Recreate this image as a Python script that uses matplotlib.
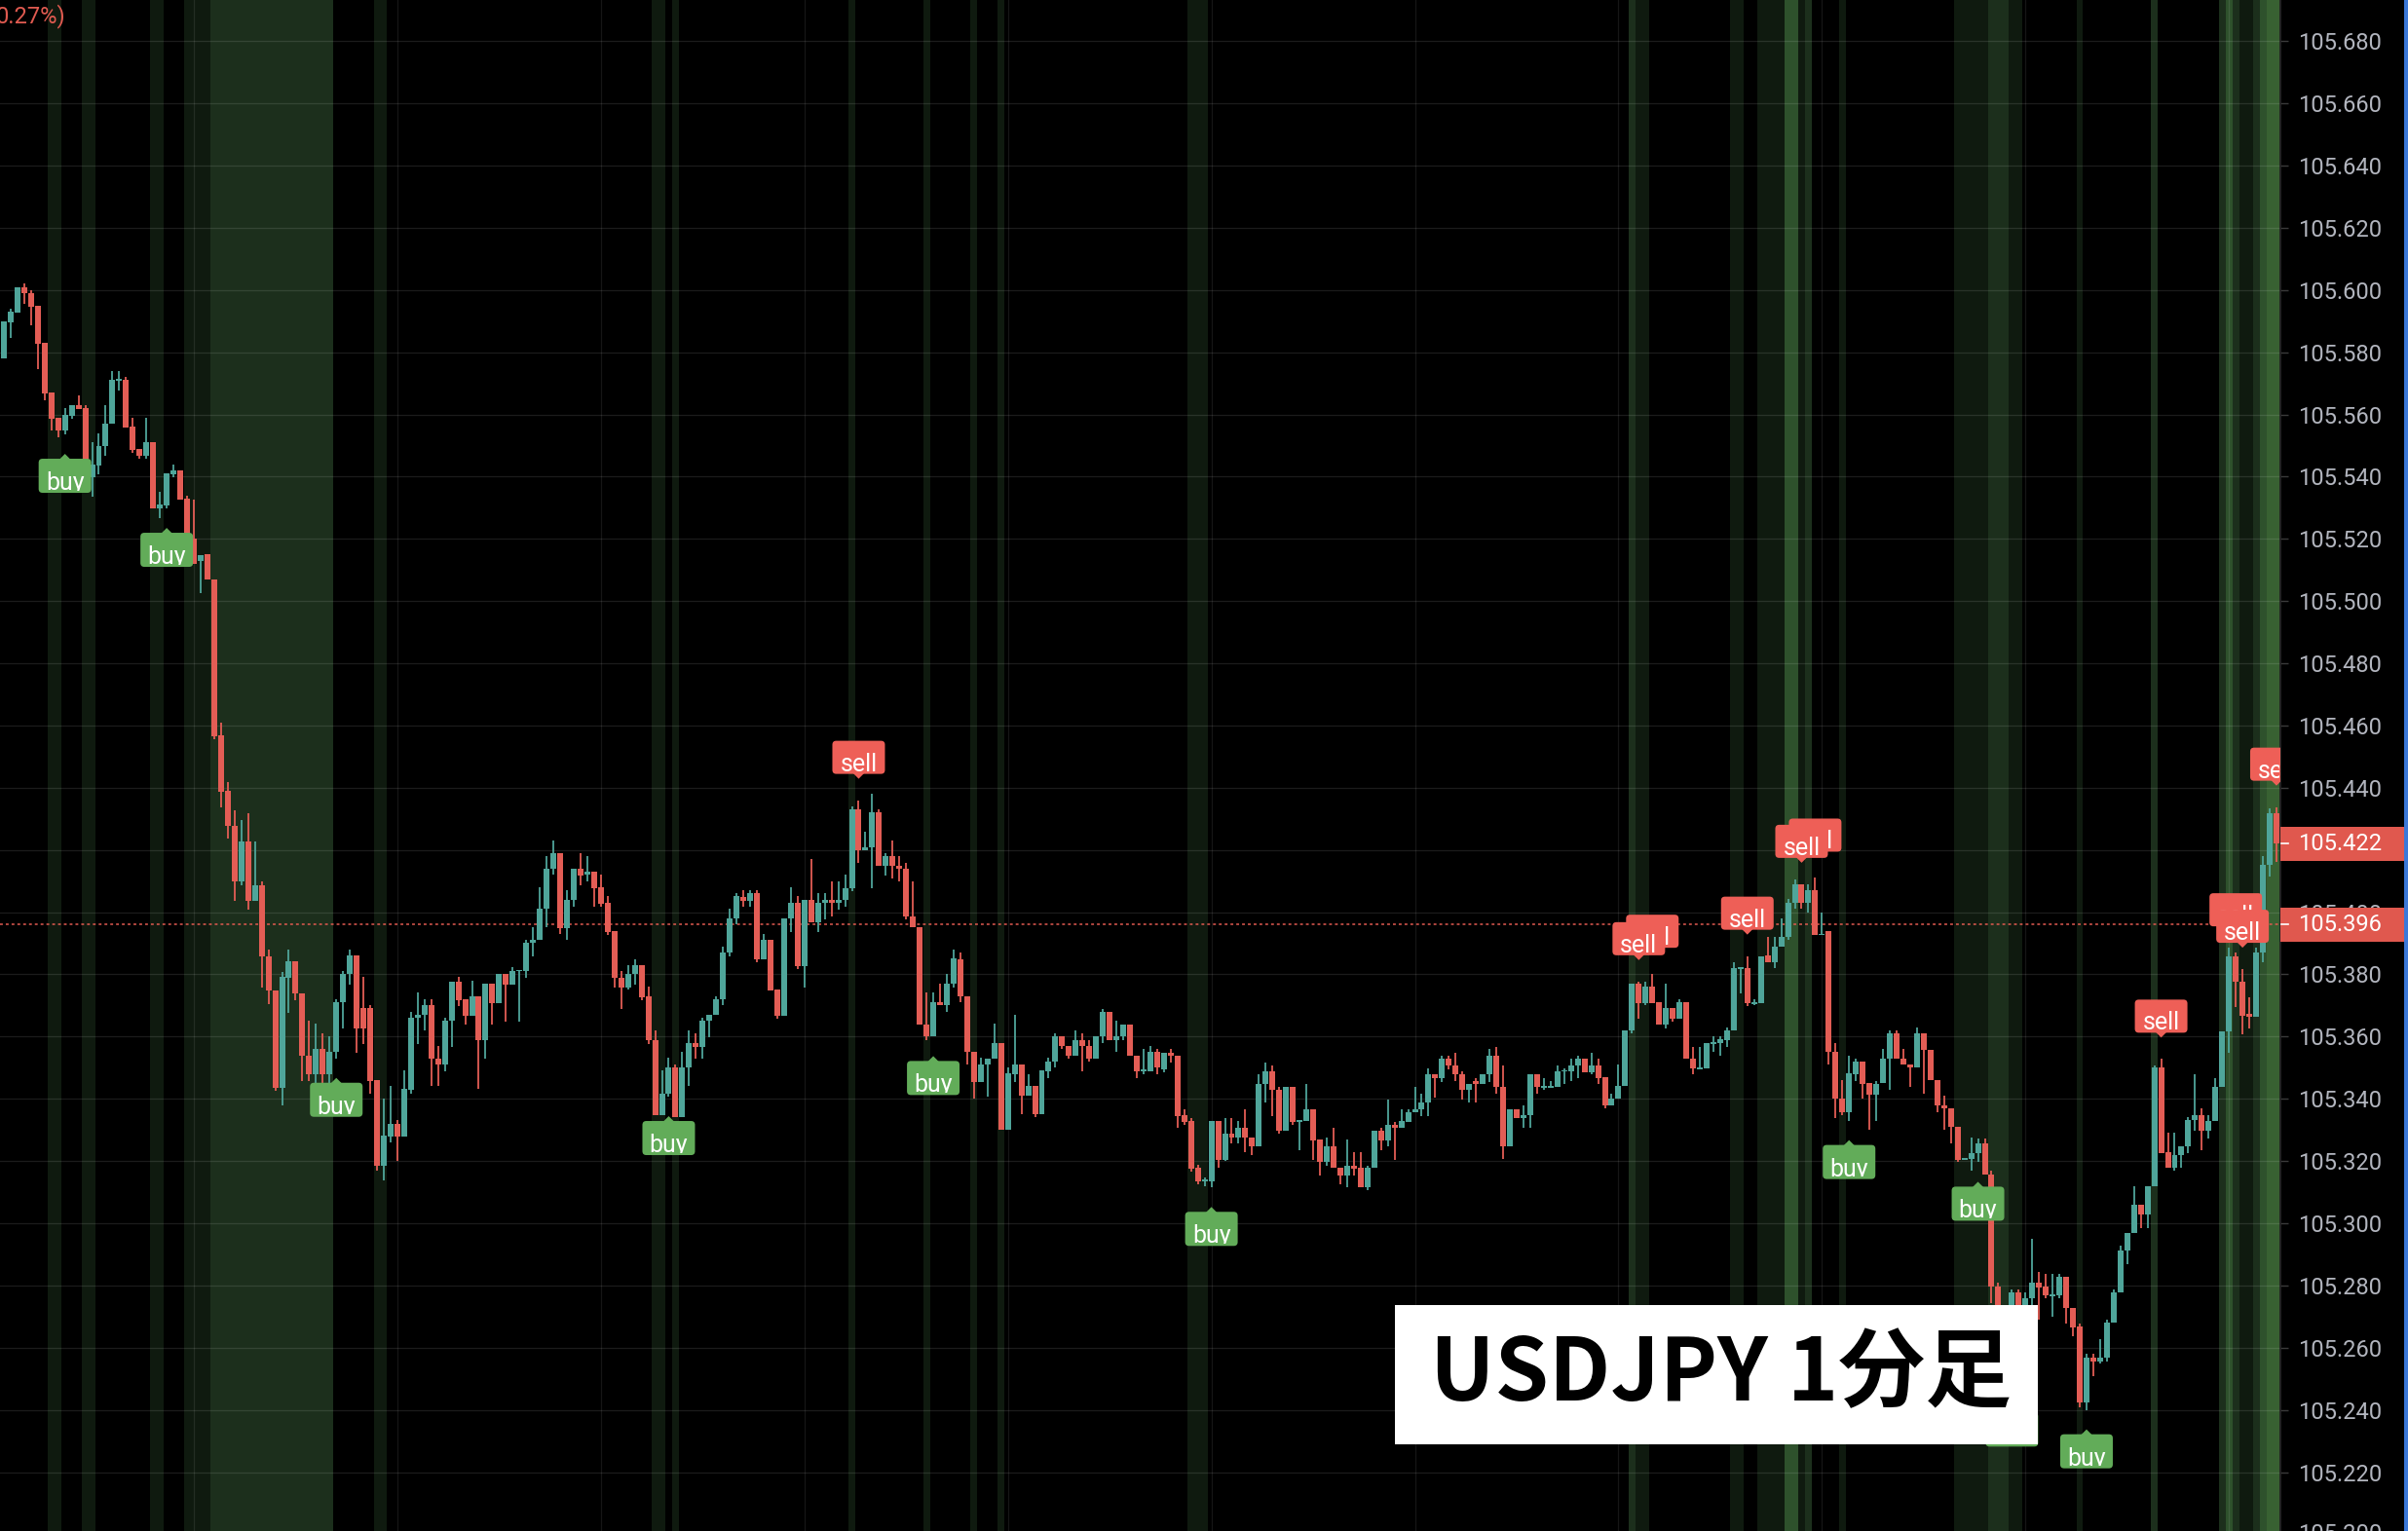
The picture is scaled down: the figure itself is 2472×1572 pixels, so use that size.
import numpy as np
import matplotlib
matplotlib.use('Agg')
import matplotlib.pyplot as plt
from matplotlib.patches import FancyBboxPatch, Polygon, Rectangle
from matplotlib.transforms import IdentityTransform, Bbox
from matplotlib.ticker import MultipleLocator, FormatStrFormatter

plt.rcParams['font.family'] = ['Roboto', 'DejaVu Sans']

# ---------------- data (USDJPY 1-minute candles) ----------------
O = [105.578, 105.5897, 105.5928, 105.601, 105.599, 105.5949, 105.583, 105.567, 105.5589, 105.5548,
     105.5596, 105.5629, 105.562, 105.5398, 105.5435, 105.5498, 105.5569, 105.571, 105.5711, 105.556,
     105.5488, 105.5467, 105.551, 105.5298, 105.5307, 105.5408, 105.5421, 105.533, 105.520, 105.513,
     105.515, 105.507, 105.457, 105.439, 105.4278, 105.4099, 105.4228, 105.4036, 105.4086, 105.3857,
     105.3748, 105.3436, 105.379, 105.3842, 105.374, 105.354, 105.3478, 105.3561, 105.3478, 105.355,
     105.371, 105.380, 105.386, 105.3692, 105.3692, 105.346, 105.3186, 105.328, 105.332, 105.328,
     105.343, 105.366, 105.367, 105.3701, 105.353, 105.351, 105.365, 105.3778, 105.372, 105.3668,
     105.373, 105.359, 105.377, 105.3708, 105.380, 105.3767, 105.3812, 105.381, 105.3901, 105.391,
     105.401, 105.414, 105.419, 105.395, 105.404, 105.414, 105.412, 105.413, 105.408, 105.403,
     105.3939, 105.379, 105.3757, 105.380, 105.383, 105.3728, 105.359, 105.3349, 105.3418, 105.350,
     105.334, 105.350, 105.358, 105.3567, 105.365, 105.367, 105.372, 105.387, 105.398, 105.405,
     105.4036, 105.406, 105.3848, 105.391, 105.375, 105.3667, 105.398, 105.403, 105.3826, 105.404,
     105.3967, 105.403, 105.4038, 105.403, 105.4038, 105.4078, 105.433, 105.4198, 105.421, 105.432,
     105.415, 105.4179, 105.415, 105.414, 105.3987, 105.3951, 105.364, 105.360, 105.3712, 105.370,
     105.377, 105.385, 105.373, 105.355, 105.3453, 105.351, 105.353, 105.358, 105.330, 105.348,
     105.351, 105.341, 105.3442, 105.335, 105.349, 105.352, 105.360, 105.357, 105.354, 105.359,
     105.357, 105.353, 105.360, 105.368, 105.359, 105.360, 105.364, 105.354, 105.349, 105.349,
     105.355, 105.3496, 105.3548, 105.3538, 105.3347, 105.3329, 105.3178, 105.3137, 105.3136, 105.3329,
     105.3204, 105.3287, 105.3277, 105.3306, 105.3277, 105.3246, 105.3447, 105.3489, 105.3428, 105.3296,
     105.3439, 105.3328, 105.3329, 105.3366, 105.3269, 105.3196, 105.3248, 105.3178, 105.3155, 105.3186,
     105.3178, 105.3117, 105.3178, 105.3298, 105.3267, 105.3317, 105.3306, 105.3326, 105.3357, 105.3366,
     105.3387, 105.3478, 105.3465, 105.353, 105.3507, 105.3478, 105.3428, 105.3457, 105.3447, 105.3478,
     105.3538, 105.3439, 105.3246, 105.3366, 105.3338, 105.3347, 105.3478, 105.3437, 105.3437, 105.3437,
     105.3489, 105.3489, 105.3507, 105.353, 105.3486, 105.3507, 105.347, 105.3379, 105.340, 105.3442,
     105.362, 105.3769, 105.3708, 105.3761, 105.371, 105.364, 105.3691, 105.3659, 105.371, 105.353,
     105.3498, 105.3498, 105.3579, 105.3579, 105.359, 105.362, 105.382, 105.382, 105.3708, 105.3708,
     105.386, 105.384, 105.389, 105.392, 105.403, 105.409, 105.403, 105.407, 105.3927, 105.394,
     105.355, 105.340, 105.3358, 105.348, 105.352, 105.345, 105.3414, 105.345, 105.353, 105.361,
     105.3529, 105.351, 105.350, 105.361, 105.3558, 105.346, 105.3379, 105.3368, 105.331, 105.3205,
     105.3207, 105.3227, 105.3258, 105.3157, 105.2798, 105.268, 105.258, 105.2778, 105.273, 105.2759,
     105.2809, 105.2798, 105.2767, 105.2767, 105.2829, 105.2728, 105.2669, 105.2424, 105.2569, 105.2556,
     105.2569, 105.2681, 105.2778, 105.2911, 105.297, 105.3059, 105.3028, 105.3118, 105.350, 105.323,
     105.3177, 105.322, 105.3247, 105.3332, 105.3349, 105.3297, 105.3329, 105.3438, 105.3617, 105.3859,
     105.3778, 105.3672, 105.3664, 105.387, 105.4151, 105.4319]
H = [105.590, 105.594, 105.6008, 105.602, 105.5998, 105.5949, 105.583, 105.567, 105.5589, 105.562,
     105.5629, 105.5661, 105.5629, 105.551, 105.5539, 105.5629, 105.5739, 105.5739, 105.572, 105.5589,
     105.5488, 105.5589, 105.551, 105.535, 105.541, 105.544, 105.5421, 105.534, 105.5327, 105.5149,
     105.515, 105.507, 105.4608, 105.4419, 105.4329, 105.4296, 105.4318, 105.4228, 105.4099, 105.388,
     105.3748, 105.3808, 105.388, 105.3842, 105.374, 105.365, 105.3642, 105.361, 105.3601, 105.372,
     105.3812, 105.388, 105.386, 105.3793, 105.3701, 105.346, 105.340, 105.3441, 105.3332, 105.3492,
     105.3679, 105.3742, 105.372, 105.372, 105.3569, 105.366, 105.3778, 105.3793, 105.372, 105.3781,
     105.373, 105.377, 105.377, 105.3801, 105.380, 105.3822, 105.3815, 105.3911, 105.3953, 105.408,
     105.418, 105.423, 105.419, 105.407, 105.414, 105.419, 105.418, 105.413, 105.412, 105.4052,
     105.3939, 105.381, 105.383, 105.385, 105.383, 105.376, 105.3619, 105.3491, 105.3532, 105.3511,
     105.3551, 105.362, 105.361, 105.366, 105.367, 105.373, 105.389, 105.4012, 105.4062, 105.407,
     105.407, 105.407, 105.393, 105.391, 105.375, 105.398, 105.408, 105.4052, 105.404, 105.417,
     105.406, 105.406, 105.410, 105.410, 105.412, 105.434, 105.436, 105.426, 105.438, 105.433,
     105.419, 105.423, 105.4179, 105.4159, 105.410, 105.3951, 105.3743, 105.3743, 105.377, 105.380,
     105.388, 105.387, 105.373, 105.355, 105.3533, 105.353, 105.3643, 105.358, 105.350, 105.367,
     105.351, 105.348, 105.3442, 105.3492, 105.3533, 105.361, 105.360, 105.357, 105.362, 105.361,
     105.359, 105.360, 105.369, 105.368, 105.365, 105.364, 105.364, 105.354, 105.356, 105.357,
     105.356, 105.3548, 105.3559, 105.3538, 105.3366, 105.3338, 105.3188, 105.3147, 105.3329, 105.3329,
     105.3338, 105.3338, 105.3329, 105.3366, 105.3277, 105.3478, 105.3517, 105.3507, 105.3439, 105.3439,
     105.3439, 105.3329, 105.3447, 105.3366, 105.3269, 105.3277, 105.3306, 105.3178, 105.3269, 105.3228,
     105.3228, 105.3186, 105.3298, 105.3306, 105.3397, 105.3326, 105.3366, 105.3366, 105.3439, 105.3418,
     105.3499, 105.3478, 105.3538, 105.3538, 105.3548, 105.3489, 105.3447, 105.3467, 105.3478, 105.3559,
     105.3567, 105.3507, 105.3366, 105.3366, 105.3378, 105.3478, 105.3478, 105.3467, 105.3457, 105.3507,
     105.3499, 105.353, 105.3538, 105.353, 105.3548, 105.353, 105.347, 105.3418, 105.3509, 105.362,
     105.3769, 105.3777, 105.3777, 105.3801, 105.371, 105.3769, 105.3691, 105.372, 105.371, 105.3568,
     105.3568, 105.3579, 105.360, 105.360, 105.3629, 105.384, 105.382, 105.3859, 105.372, 105.3859,
     105.392, 105.392, 105.398, 105.4043, 105.4106, 105.409, 105.409, 105.411, 105.400, 105.394,
     105.3579, 105.346, 105.354, 105.353, 105.352, 105.345, 105.3456, 105.356, 105.362, 105.362,
     105.356, 105.351, 105.3629, 105.361, 105.3558, 105.346, 105.341, 105.3368, 105.331, 105.3209,
     105.3274, 105.3271, 105.3271, 105.3168, 105.2809, 105.270, 105.2786, 105.2786, 105.2778, 105.295,
     105.2845, 105.2837, 105.2837, 105.2837, 105.2829, 105.2728, 105.2678, 105.258, 105.258, 105.2627,
     105.2689, 105.2787, 105.2928, 105.297, 105.3118, 105.3059, 105.3118, 105.3508, 105.3528, 105.329,
     105.329, 105.3247, 105.334, 105.348, 105.3368, 105.3349, 105.3466, 105.3617, 105.3887, 105.387,
     105.3817, 105.3726, 105.3887, 105.4179, 105.4335, 105.4338]
L = [105.578, 105.5847, 105.5928, 105.5956, 105.5886, 105.5746, 105.5645, 105.5548, 105.5526, 105.5536,
     105.5586, 105.5617, 105.5387, 105.5337, 105.5409, 105.5468, 105.5569, 105.5677, 105.5557, 105.5476,
     105.5458, 105.5458, 105.5298, 105.5266, 105.5298, 105.5398, 105.5327, 105.5197, 105.512, 105.5025,
     105.5068, 105.4557, 105.4338, 105.4237, 105.4036, 105.4086, 105.4009, 105.4036, 105.3757, 105.3706,
     105.3426, 105.3379, 105.3676, 105.3716, 105.3457, 105.3457, 105.338, 105.341, 105.339, 105.353,
     105.3626, 105.3767, 105.3548, 105.3577, 105.3417, 105.317, 105.3139, 105.3259, 105.320, 105.328,
     105.3417, 105.3577, 105.3619, 105.344, 105.344, 105.3488, 105.3567, 105.3699, 105.364, 105.3668,
     105.3431, 105.353, 105.364, 105.3708, 105.3648, 105.3767, 105.3648, 105.379, 105.3859, 105.391,
     105.3951, 105.412, 105.3929, 105.391, 105.4018, 105.4087, 105.410, 105.4018, 105.4018, 105.3926,
     105.3757, 105.3689, 105.375, 105.3768, 105.3718, 105.3577, 105.3349, 105.3349, 105.3407, 105.334,
     105.334, 105.344, 105.353, 105.353, 105.3598, 105.367, 105.370, 105.3859, 105.3961, 105.4017,
     105.4017, 105.384, 105.3848, 105.3749, 105.3657, 105.3667, 105.3935, 105.3818, 105.3759, 105.3967,
     105.3936, 105.3978, 105.3987, 105.4009, 105.4019, 105.4067, 105.4159, 105.4198, 105.4078, 105.415,
     105.4119, 105.4109, 105.4099, 105.3978, 105.3951, 105.364, 105.359, 105.360, 105.370, 105.3678,
     105.3759, 105.3712, 105.3509, 105.340, 105.3453, 105.3408, 105.353, 105.330, 105.330, 105.3453,
     105.335, 105.341, 105.3341, 105.335, 105.3467, 105.350, 105.3561, 105.353, 105.354, 105.349,
     105.352, 105.353, 105.358, 105.359, 105.355, 105.359, 105.354, 105.3467, 105.348, 105.349,
     105.348, 105.3486, 105.3517, 105.3306, 105.3316, 105.3167, 105.3126, 105.3118, 105.3115, 105.3178,
     105.3199, 105.3256, 105.3256, 105.3228, 105.3218, 105.3246, 105.3387, 105.3345, 105.3287, 105.3296,
     105.3316, 105.3235, 105.3329, 105.3204, 105.3155, 105.3185, 105.3178, 105.3126, 105.3115, 105.3155,
     105.3117, 105.3105, 105.3178, 105.3235, 105.3246, 105.3204, 105.3306, 105.3326, 105.3357, 105.3345,
     105.3345, 105.3405, 105.3455, 105.3496, 105.3457, 105.3397, 105.3387, 105.3387, 105.3447, 105.3455,
     105.3416, 105.3206, 105.3246, 105.3338, 105.3306, 105.3306, 105.3416, 105.3428, 105.3434, 105.3437,
     105.3447, 105.3457, 105.3465, 105.3486, 105.3478, 105.3447, 105.3368, 105.3379, 105.340, 105.3442,
     105.361, 105.3659, 105.370, 105.3708, 105.364, 105.3626, 105.3649, 105.3659, 105.353, 105.348,
     105.3495, 105.3498, 105.355, 105.354, 105.3568, 105.362, 105.374, 105.3699, 105.370, 105.3708,
     105.384, 105.382, 105.389, 105.391, 105.401, 105.401, 105.400, 105.3927, 105.3927, 105.351,
     105.3337, 105.3347, 105.333, 105.3456, 105.340, 105.330, 105.333, 105.345, 105.3428, 105.353,
     105.3509, 105.3439, 105.350, 105.3418, 105.3459, 105.3358, 105.330, 105.3258, 105.3196, 105.3202,
     105.3168, 105.3196, 105.3157, 105.2744, 105.266, 105.255, 105.247, 105.270, 105.271, 105.2736,
     105.2689, 105.2759, 105.270, 105.2759, 105.2678, 105.2638, 105.2408, 105.240, 105.251, 105.2549,
     105.2556, 105.2681, 105.2778, 105.2868, 105.297, 105.2985, 105.2985, 105.3118, 105.3227, 105.3177,
     105.3168, 105.3177, 105.3227, 105.3297, 105.3235, 105.3271, 105.3329, 105.3438, 105.3547, 105.3695,
     105.3608, 105.3625, 105.3664, 105.3839, 105.4116, 105.4163]
C = [105.590, 105.593, 105.6008, 105.599, 105.5946, 105.5828, 105.5668, 105.5586, 105.5548, 105.5598,
     105.5629, 105.5617, 105.5398, 105.544, 105.550, 105.557, 105.5711, 105.5712, 105.5557, 105.5485,
     105.5467, 105.551, 105.5298, 105.531, 105.541, 105.5421, 105.5327, 105.5197, 105.512, 105.5149,
     105.5068, 105.4566, 105.4386, 105.4278, 105.4099, 105.4228, 105.4036, 105.4086, 105.3857, 105.3748,
     105.3436, 105.3793, 105.3842, 105.3739, 105.354, 105.3478, 105.3561, 105.3478, 105.3551, 105.3711,
     105.3801, 105.3861, 105.3626, 105.3626, 105.3457, 105.3186, 105.3282, 105.332, 105.328, 105.3431,
     105.366, 105.367, 105.3701, 105.353, 105.3509, 105.365, 105.3778, 105.3718, 105.3668, 105.3731,
     105.359, 105.377, 105.3708, 105.3801, 105.3767, 105.3812, 105.3814, 105.3901, 105.3911, 105.4012,
     105.414, 105.419, 105.3949, 105.404, 105.414, 105.4119, 105.413, 105.4078, 105.4028, 105.3936,
     105.3789, 105.3757, 105.3801, 105.383, 105.3726, 105.359, 105.3349, 105.3418, 105.3501, 105.334,
     105.3501, 105.358, 105.3567, 105.365, 105.367, 105.372, 105.3869, 105.398, 105.4052, 105.4036,
     105.406, 105.3848, 105.3911, 105.3749, 105.3667, 105.398, 105.4029, 105.3826, 105.404, 105.3967,
     105.403, 105.4038, 105.403, 105.4038, 105.4078, 105.433, 105.4198, 105.421, 105.432, 105.415,
     105.4179, 105.415, 105.4139, 105.3987, 105.3951, 105.364, 105.360, 105.3712, 105.370, 105.377,
     105.3852, 105.3729, 105.3551, 105.3453, 105.3511, 105.353, 105.358, 105.330, 105.3483, 105.3511,
     105.341, 105.3442, 105.335, 105.3492, 105.352, 105.360, 105.357, 105.354, 105.359, 105.357,
     105.353, 105.360, 105.368, 105.359, 105.360, 105.364, 105.354, 105.349, 105.3492, 105.355,
     105.350, 105.3548, 105.3538, 105.3345, 105.3326, 105.3175, 105.3136, 105.3139, 105.3329, 105.3204,
     105.3287, 105.3277, 105.3306, 105.3277, 105.3246, 105.3447, 105.3489, 105.3428, 105.3296, 105.3439,
     105.3326, 105.3330, 105.3366, 105.3267, 105.3196, 105.3248, 105.3178, 105.3155, 105.3186, 105.3176,
     105.3117, 105.3178, 105.3298, 105.3267, 105.3317, 105.3306, 105.3329, 105.3357, 105.3366, 105.3387,
     105.3478, 105.3465, 105.353, 105.3507, 105.3478, 105.3428, 105.3447, 105.3447, 105.3478, 105.3538,
     105.3439, 105.3246, 105.3366, 105.3338, 105.3347, 105.3478, 105.3437, 105.3438, 105.3438, 105.3489,
     105.349, 105.3507, 105.353, 105.3486, 105.3507, 105.3465, 105.3379, 105.340, 105.3442, 105.362,
     105.3769, 105.3708, 105.3761, 105.3708, 105.364, 105.3691, 105.3659, 105.371, 105.353, 105.3498,
     105.3499, 105.3579, 105.3580, 105.3591, 105.362, 105.382, 105.3821, 105.3708, 105.3709, 105.3859,
     105.384, 105.389, 105.392, 105.4029, 105.409, 105.403, 105.4071, 105.3927, 105.393, 105.355,
     105.340, 105.3358, 105.3481, 105.3519, 105.3449, 105.3414, 105.3449, 105.353, 105.361, 105.353,
     105.3509, 105.350, 105.361, 105.3558, 105.3459, 105.3379, 105.3368, 105.3309, 105.3204, 105.3207,
     105.3227, 105.3258, 105.3157, 105.2798, 105.268, 105.258, 105.2778, 105.272, 105.2758, 105.2809,
     105.2794, 105.2767, 105.2768, 105.2829, 105.2728, 105.2666, 105.2424, 105.2569, 105.2556, 105.2569,
     105.2681, 105.2778, 105.2911, 105.297, 105.3059, 105.3028, 105.3118, 105.350, 105.3227, 105.3177,
     105.3219, 105.3247, 105.3332, 105.3349, 105.3297, 105.3329, 105.3438, 105.3617, 105.3859, 105.3776,
     105.3667, 105.3664, 105.387, 105.4151, 105.4319, 105.422]

buy_idx = [9, 24, 49, 98, 137, 178, 272, 291, 296, 307]
sell_idx = [126, 243, 241, 257, 267, 265, 318, 329, 330, 335]   # drawn in this order

band_levels = {
    1: [7, 8, 12, 13, 22, 23, 27, 28, 29, 30, 55, 56, 96, 97, 99, 125, 136, 143, 147,
        175, 176, 177, 241, 242, 255, 256, 259, 260, 261, 262, 265, 271,
        288, 289, 290, 291, 292, 296, 297, 306, 330, 331],
    2: list(range(31, 49)) + [240, 266, 293, 294, 295, 317, 327, 329, 332],
    3: [263, 264, 328, 333],
    4: [334, 335],
}
band_colors = {1: '#0f1a0f', 2: '#1c2f1c', 3: '#2e512c', 4: '#386132'}

price_ticks_step = 0.02
vgrid_idx = list(range(28, 336, 30))
last_price = 105.422
ref_price = 105.396
title = 'USDJPY 1分足'
change_text = '0.27%)'

# ---------------- figure ----------------
O = np.array(O); H = np.array(H); L = np.array(L); C = np.array(C)
assert len(O) == len(H) == len(L) == len(C)
H = np.maximum(H, np.maximum(O, C))
L = np.minimum(L, np.minimum(O, C))
n = len(O)
idx = np.arange(n)

W, HP = 2472, 1572
AXR = 2341
fig = plt.figure(figsize=(W / 100, HP / 100), dpi=100, facecolor='black')
ax = fig.add_axes([0, 0, AXR / W, 1])
ax.set_facecolor('black')
ax.set_xlim(-0.5744, 335.58)
ax.set_ylim(105.20107, 105.69324)

UP = '#4fa59a'
DN = '#e35d55'
BUY_C = '#62ac59'
SELL_C = '#ee5f57'
PRICE_BOX = '#e0584e'

# bands
for lvl, ids in band_levels.items():
    for i in ids:
        ax.axvspan(i - 0.5, i + 0.5, color=band_colors[lvl], lw=0, zorder=0.5)

# grid
ticks = np.arange(105.22, 105.681, price_ticks_step)
for p in ticks:
    ax.axhline(p, color=(1, 1, 1, 0.11), lw=0.9, zorder=1)
for v in vgrid_idx:
    ax.axvline(v, color=(1, 1, 1, 0.09), lw=0.9, zorder=1)

# reference dotted line
ax.axhline(ref_price, color='#e05a50', lw=1.1, ls=(0, (1.9, 2.0)), zorder=2)

# candles
cols = np.where(C >= O, UP, DN)
minh = 0.0005
bh = np.abs(C - O)
bottom = np.where(bh < minh, (O + C) / 2 - minh / 2, np.minimum(O, C))
bh = np.maximum(bh, minh)
ax.vlines(idx, L, H, colors=cols, lw=1.3, zorder=3)
ax.bar(idx, bh, bottom=bottom, width=0.86, color=cols, lw=0, zorder=4)

ident = IdentityTransform()
to_px = ax.transData.transform


def add_label(i, kind, z):
    if kind == 'buy':
        xc, yl = to_px((i, L[i]))
        tip = yl - 20
        top = tip - 5
        bot = top - 35
        col = BUY_C
        tri = [(xc - 6, top - 1), (xc + 6, top - 1), (xc, tip)]
        txt = 'buy'
    else:
        xc, yh = to_px((i, H[i]))
        tip = yh + 22
        bot = tip + 5
        top = bot + 34
        col = SELL_C
        tri = [(xc - 6, bot + 1), (xc + 6, bot + 1), (xc, tip)]
        txt = 'sell'
    box = FancyBboxPatch((xc - 27, bot), 54, top - bot,
                         boxstyle='round,pad=0,rounding_size=4',
                         transform=ident, fc=col, ec='none', zorder=z)
    ax.add_patch(box)
    ax.add_patch(Polygon(tri, closed=True, transform=ident, fc=col, ec='none', zorder=z))
    t = ax.text(xc, bot + 3, txt, transform=ident, ha='center', va='baseline',
                color='white', fontsize=18, zorder=z + 0.05, clip_on=True)
    t.set_clip_box(Bbox.from_extents(max(xc - 27, 0), bot + 2.5, min(xc + 27, AXR - 1), top))


z = 6
for i in buy_idx:
    add_label(i, 'buy', z)
    z += 0.1
for i in sell_idx:
    add_label(i, 'sell', z)
    z += 0.1

# axis styling
ax.yaxis.set_major_locator(MultipleLocator(price_ticks_step))
ax.yaxis.set_major_formatter(FormatStrFormatter('%.3f'))
ax.yaxis.tick_right()
ax.tick_params(axis='y', direction='out', length=5.8, width=1, color='#3a3a3a',
               pad=7.2, labelsize=17, labelcolor='#b2b5be')
ax.set_xticks([])
for s in ['left', 'top', 'bottom']:
    ax.spines[s].set_visible(False)
ax.spines['right'].set_color('#2a2a2a')
ax.spines['right'].set_linewidth(1.2)

# clipped bottom tick label
yb = to_px((0, 105.200))[1]
fig.text(2359, yb, '105.200', transform=ident, ha='left', va='center',
         fontsize=17, color='#b2b5be')

# price boxes on the scale
for p in [last_price, ref_price]:
    yp = to_px((0, p))[1]
    fig.add_artist(Rectangle((AXR, yp - 17.5), 2468 - AXR, 35, transform=ident,
                             fc=PRICE_BOX, ec='none', zorder=5))
    fig.add_artist(plt.Line2D([AXR + 1, AXR + 8], [yp, yp], transform=ident,
                              color='white', lw=1.2, zorder=6))
    fig.text(2359, yp, f'{p:.3f}', transform=ident, ha='left', va='center',
             fontsize=17, color='white', zorder=7)

# right blue edge
fig.add_artist(Rectangle((2468, 0), 4, HP, transform=ident, fc='#3b78d8', ec='none', zorder=5))

# top-left change text (clipped)
fig.text(-4, HP - 17, change_text, transform=ident, ha='left', va='center',
         fontsize=17, color='#e05a50', zorder=7)

# title box
fig.add_artist(Rectangle((1432, HP - 1483), 660, 143, transform=ident,
                         fc='white', ec='none', zorder=8))
fig.text(1767, HP - 1412, title, transform=ident, ha='center', va='center',
         fontsize=64, fontweight='bold', color='black',
         family=['Noto Sans CJK JP', 'DejaVu Sans'], zorder=9)

fig.savefig('out.png', dpi=100, facecolor='black')
